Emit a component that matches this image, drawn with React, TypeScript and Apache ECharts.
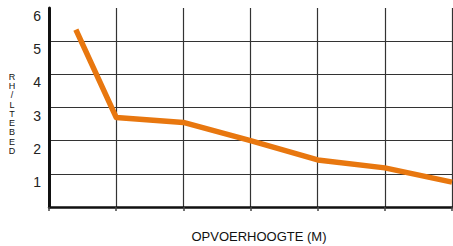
import React, { useEffect, useRef } from "react";
import * as echarts from "echarts";

const xValues = [0.4, 1, 2, 3, 4, 5, 6];
const yValues = [5.35, 2.7, 2.55, 2.0, 1.42, 1.18, 0.75];
const xAxisTitle = "OPVOERHOOGTE (M)";
const yAxisTitle = "RH/LTEBED";

export default function App() {
  const ref = useRef<HTMLDivElement>(null);
  useEffect(() => {
    if (!ref.current) return;
    const chart = echarts.init(ref.current, undefined, { renderer: "svg" });
    const data = xValues.map((x, i) => [x, yValues[i]]);
    chart.setOption({
      animation: false,
      backgroundColor: "#ffffff",
      grid: { left: 49, right: 1, top: 8, bottom: 39, containLabel: false },
      xAxis: {
        type: "value",
        min: 0,
        max: 6,
        interval: 1,
        axisLine: { show: true, onZero: false, lineStyle: { color: "#111", width: 2.5 } },
        axisTick: { show: true, length: 4, lineStyle: { color: "#444", width: 1.5 } },
        axisLabel: { show: false },
        splitLine: { show: true, lineStyle: { color: "#333", width: 1.2 } },
      },
      yAxis: {
        type: "value",
        min: 0,
        max: 6,
        interval: 1,
        axisLine: { show: true, lineStyle: { color: "#111", width: 3 } },
        axisTick: { show: false },
        axisLabel: {
          show: true,
          showMinLabel: false,
          margin: 8,
          verticalAlign: "top",
          padding: [1, 0, 0, 0],
          fontFamily: "Liberation Sans",
          fontSize: 14,
          color: "#222",
        },
        splitLine: {
          show: true,
          lineStyle: {
            color: ["#333", "#333", "#333", "#333", "#333", "#333", "rgba(0,0,0,0)"],
            width: 1.2,
          },
        },
      },
      series: [
        {
          type: "line",
          data,
          symbol: "none",
          lineStyle: { color: "#E8770F", width: 5.5, cap: "butt", join: "round" },
          z: 3,
        },
      ],
      graphic: [
        {
          type: "text",
          x: 259,
          y: 230,
          style: {
            text: xAxisTitle,
            fontFamily: "Liberation Sans",
            fontSize: 13,
            align: "center",
            fill: "#111",
          },
        },
        {
          type: "text",
          x: 12,
          y: 72,
          style: {
            text: yAxisTitle.split("").join("\n"),
            fontFamily: "Liberation Sans",
            fontSize: 9,
            lineHeight: 9.3,
            align: "center",
            fill: "#111",
          },
        },
      ],
    });
    return () => chart.dispose();
  }, []);
  return <div ref={ref} style={{ width: 453, height: 246, position: "absolute", left: 0, top: 0 }} />;
}
